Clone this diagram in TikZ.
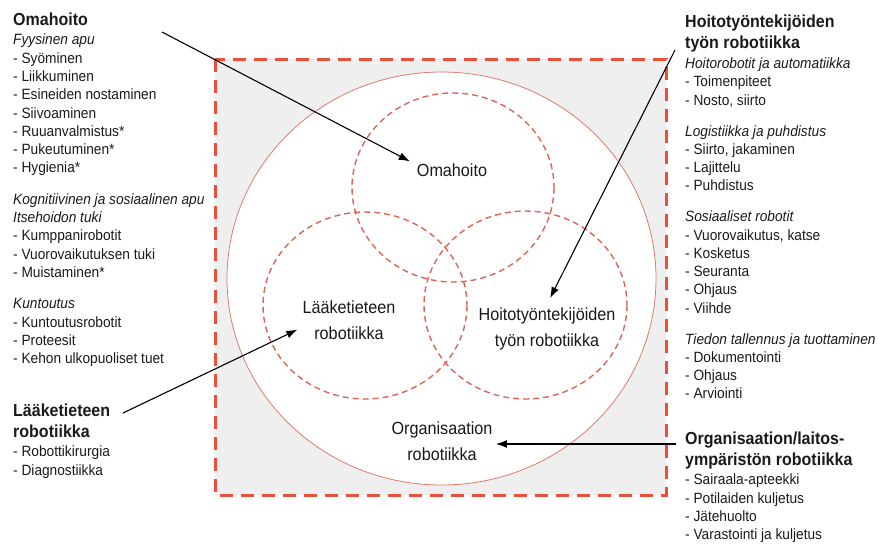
\documentclass[tikz,border=0pt]{standalone}
\usepackage{fontspec}
\setmainfont{Liberation Sans}[FakeStretch=0.92]
\usetikzlibrary{arrows.meta}

\definecolor{boxred}{HTML}{E8503A}
\definecolor{ringred}{HTML}{E07A6E}
\definecolor{zonered}{HTML}{DE6456}
\definecolor{bggray}{HTML}{EFEFEF}
\definecolor{txt}{HTML}{1A1A1A}

\tikzset{
  arr/.style={-{Latex[length=11pt,width=8pt]}, line width=1.1pt},
  zone/.style={zonered, line width=1.4pt, dash pattern=on 6pt off 4pt},
  lst/.style={anchor=north west, align=left, inner sep=0pt, text=txt,
    font=\fontsize{14.9}{18.3}\selectfont},
  lbl/.style={align=center, text=txt, font=\fontsize{17.6}{26}\selectfont}
}
\newcommand{\hd}[1]{{\fontsize{17.4}{21}\selectfont\bfseries #1}}

\begin{document}
\begin{tikzpicture}[x=1pt,y=-1pt]
  \useasboundingbox (0,0) rectangle (878,547);

  % frame, outer ring and the three areas
  \draw[boxred, fill=bggray, line width=3pt, dash pattern=on 13pt off 8pt] (215,59) rectangle (666,495);
  \draw[ringred, fill=white, line width=0.8pt] (441.5,278.5) ellipse [x radius=214.5, y radius=206.5];
  \draw[zone] (453,187.5) ellipse [x radius=101, y radius=94.5];
  \draw[zone] (365,305.5) ellipse [x radius=102, y radius=93.5];
  \draw[zone] (525.5,305) ellipse [x radius=101.5, y radius=94];

  \node[lbl] (omalabel) at (452,170) {Omahoito};
  \node[lbl] (laaklabel) at (349,320) {Lääketieteen\\robotiikka};
  \node[lbl] (hoitolabel) at (547,329) {Hoitotyöntekijöiden\\työn robotiikka};
  \node[lbl] (orglabel) at (442,441) {Organisaation\\robotiikka};

  % left column
  \node[lst] (omalist) at (13,13) {\hd{Omahoito}\\[0.7pt]
    \textit{Fyysinen apu}\\
    - Syöminen\\
    - Liikkuminen\\
    - Esineiden nostaminen\\
    - Siivoaminen\\
    - Ruuanvalmistus*\\
    - Pukeutuminen*\\
    - Hygienia*\\[13pt]
    \textit{Kognitiivinen ja sosiaalinen apu}\\
    \textit{Itsehoidon tuki}\\
    - Kumppanirobotit\\
    - Vuorovaikutuksen tuki\\
    - Muistaminen*\\[13pt]
    \textit{Kuntoutus}\\
    - Kuntoutusrobotit\\
    - Proteesit\\
    - Kehon ulkopuoliset tuet};
  \node[lst] (laaklist) at (13,404) {\hd{Lääketieteen}\\[2.7pt]
    \hd{robotiikka}\\[0.7pt]
    - Robottikirurgia\\
    - Diagnostiikka};

  % right column
  \node[lst] (hoitolist) at (685,15) {\hd{Hoitotyöntekijöiden}\\[2.7pt]
    \hd{työn robotiikka}\\[1.5pt]
    \textit{Hoitorobotit ja automatiikka}\\
    - Toimenpiteet\\
    - Nosto, siirto\\[12.5pt]
    \textit{Logistiikka ja puhdistus}\\
    - Siirto, jakaminen\\
    - Lajittelu\\
    - Puhdistus\\[12.5pt]
    \textit{Sosiaaliset robotit}\\
    - Vuorovaikutus, katse\\
    - Kosketus\\
    - Seuranta\\
    - Ohjaus\\
    - Viihde\\[12.5pt]
    \textit{Tiedon tallennus ja tuottaminen}\\
    - Dokumentointi\\
    - Ohjaus\\
    - Arviointi};
  \node[lst] (orglist) at (685,432) {\hd{Organisaation/laitos-}\\[2.7pt]
    \hd{ympäristön robotiikka}\\[0.7pt]
    - Sairaala-apteekki\\
    - Potilaiden kuljetus\\
    - Jätehuolto\\
    - Varastointi ja kuljetus};

  % pointers
  \coordinate (omastart) at (162,32);
  \coordinate (laakstart) at (123,413);
  \coordinate (hoitostart) at (675,50);
  \coordinate (orgstart) at (676,444);
  \draw[arr, shorten >=4pt] (omastart) -- (omalabel.170);
  \draw[arr, shorten >=2pt] (laakstart) -- (laaklabel.190);
  \draw[arr, shorten >=7pt] (hoitostart) -- (hoitolabel.north);
  \draw[arr] (orgstart) -- (orglabel.east |- orgstart);
\end{tikzpicture}
\end{document}
